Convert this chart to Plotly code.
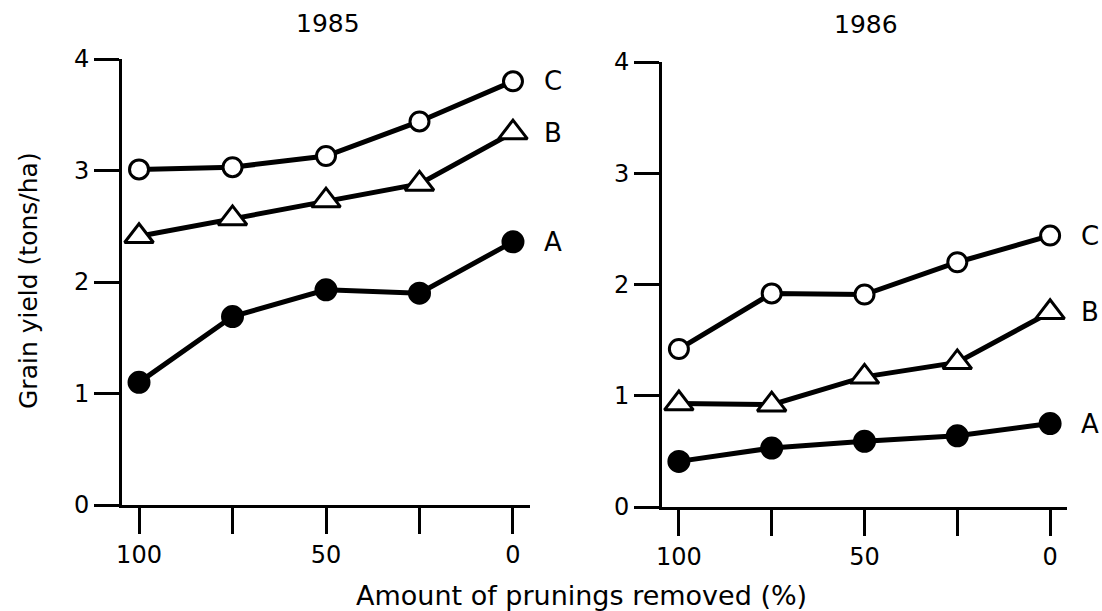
import plotly.graph_objects as go

# ---- data ----
pruning_removed = [100, 75, 50, 25, 0]
x_tickvals = [100, 75, 50, 25, 0]
x_ticktext = ["100", "", "50", "", "0"]
y_tickvals = [0, 1, 2, 3, 4]
y_ticktext = ["0", "1", "2", "3", "4"]

yield_1985_A = [1.10, 1.69, 1.93, 1.90, 2.36]
yield_1985_B = [2.41, 2.57, 2.73, 2.88, 3.34]
yield_1985_C = [3.01, 3.03, 3.13, 3.44, 3.80]

yield_1986_A = [0.41, 0.53, 0.59, 0.64, 0.75]
yield_1986_B = [0.93, 0.92, 1.17, 1.30, 1.75]
yield_1986_C = [1.42, 1.92, 1.91, 2.20, 2.44]

panel_titles = ["1985", "1986"]
series_names = ["A", "B", "C"]
x_title = "Amount of prunings removed (%)"
y_title = "Grain yield (tons/ha)"

W, H = 1102, 611
FONT = "DejaVu Sans"

def px(x):
    return x / W

def py(y):
    return 1 - y / H

styles = {
    "A": dict(symbol="circle", size=21, color="black", line=dict(color="black", width=2)),
    "B": dict(symbol="triangle-up", size=25, color="white", line=dict(color="black", width=3)),
    "C": dict(symbol="circle", size=19, color="white", line=dict(color="black", width=3)),
}

fig = go.Figure()

panels = [
    ("x", "y", {"A": yield_1985_A, "B": yield_1985_B, "C": yield_1985_C}),
    ("x2", "y2", {"A": yield_1986_A, "B": yield_1986_B, "C": yield_1986_C}),
]

for xa, ya, data in panels:
    for name in ["A", "B", "C"]:
        fig.add_trace(go.Scatter(
            x=pruning_removed, y=data[name], xaxis=xa, yaxis=ya,
            mode="lines+markers", name=name, showlegend=False,
            line=dict(color="black", width=5),
            marker=styles[name], cliponaxis=False,
        ))
        fig.add_annotation(
            x=pruning_removed[-1], y=data[name][-1], xref=xa, yref=ya,
            text=name, showarrow=False, xshift=40, xanchor="center", yanchor="middle",
            font=dict(family=FONT, size=26, color="black"),
        )

axis_common = dict(
    showline=True, linewidth=3, linecolor="black",
    ticks="outside", tickwidth=3, tickcolor="black",
    showgrid=False, zeroline=False, automargin=False,
    tickfont=dict(family=FONT, size=24, color="black"),
)

xr = [104.55, -4.55]
fig.update_layout(
    width=W, height=H,
    margin=dict(l=0, r=0, t=0, b=0),
    paper_bgcolor="white", plot_bgcolor="white",
    xaxis=dict(domain=[px(122), px(530)], anchor="y", range=xr,
               tickvals=x_tickvals, ticktext=x_ticktext, ticklen=26, **axis_common),
    yaxis=dict(domain=[py(505), py(59)], anchor="x", range=[0, 4],
               tickvals=y_tickvals, ticktext=y_ticktext, ticklen=25, **axis_common),
    xaxis2=dict(domain=[px(662), px(1067)], anchor="y2", range=xr,
                tickvals=x_tickvals, ticktext=x_ticktext, ticklen=26, **axis_common),
    yaxis2=dict(domain=[py(507), py(62)], anchor="x2", range=[0, 4],
                tickvals=y_tickvals, ticktext=y_ticktext, ticklen=25, **axis_common),
)

# panel titles
fig.add_annotation(x=px(328), y=py(23), xref="paper", yref="paper", text=panel_titles[0],
                   showarrow=False, xanchor="center", yanchor="middle",
                   font=dict(family=FONT, size=25, color="black"))
fig.add_annotation(x=px(866), y=py(25), xref="paper", yref="paper", text=panel_titles[1],
                   showarrow=False, xanchor="center", yanchor="middle",
                   font=dict(family=FONT, size=25, color="black"))
# axis titles
fig.add_annotation(x=px(581), y=py(595), xref="paper", yref="paper", text=x_title,
                   showarrow=False, xanchor="center", yanchor="middle",
                   font=dict(family=FONT, size=27, color="black"))
fig.add_annotation(x=px(28), y=py(281), xref="paper", yref="paper", text=y_title,
                   showarrow=False, xanchor="center", yanchor="middle", textangle=-90,
                   font=dict(family=FONT, size=25, color="black"))

fig.write_html("out.html")
